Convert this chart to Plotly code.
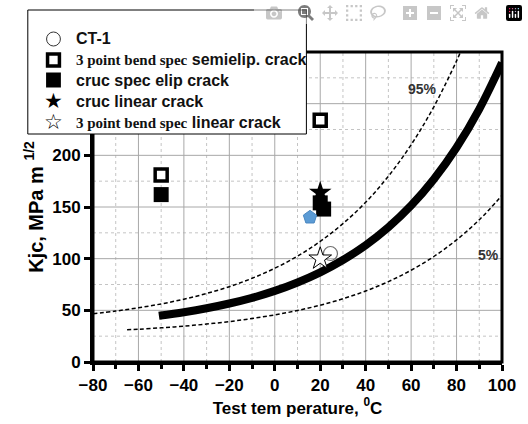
import plotly.graph_objects as go

# Master curve (median)
med_T = [-51, -40, -30, -20, -10, 0, 10, 20, 30, 40, 50, 60, 70, 80, 90, 100]
med_K = [44.7, 48.2, 52.0, 56.6, 62.1, 68.8, 77.0, 86.8, 98.7, 113.0, 130.4, 151.4, 176.9, 207.6, 244.8, 289.7]

# 95% bound
p95_T = [-80, -70, -60, -50, -40, -30, -20, -10, 0, 10, 20, 30, 40, 50, 60, 70, 80, 85]
p95_K = [46.8, 49.3, 52.5, 56.2, 60.8, 66.3, 72.9, 81.0, 90.7, 102.4, 116.7, 133.9, 154.6, 179.8, 210.2, 247.0, 291.4, 317]

# 5% bound
p05_T = [-65, -60, -50, -40, -30, -20, -10, 0, 10, 20, 30, 40, 50, 60, 70, 80, 90, 100]
p05_K = [31.2, 31.7, 33.1, 34.7, 36.7, 39.1, 42.1, 45.6, 49.8, 55.0, 61.2, 68.7, 77.8, 88.8, 102.1, 118.2, 137.6, 161.2]

# Test results
ct1_T, ct1_K = [24.5], [105]
sb_semi_T, sb_semi_K = [-50, 20], [181, 234]
cruc_elip_T, cruc_elip_K = [-50, 20, 21.5], [162, 154, 148]
cruc_lin_T, cruc_lin_K = [20], [164]
sb_lin_T, sb_lin_K = [20], [100]
blue_T, blue_K = [15.5], [140]

x_ticks = [-80, -60, -40, -20, 0, 20, 40, 60, 80, 100]
x_minor = [-70, -50, -30, -10, 10, 30, 50, 70, 90]
y_ticks = [0, 50, 100, 150, 200, 250, 300]
y_minor = [25, 75, 125, 175, 225, 275]

SERIF = "Liberation Serif, Times New Roman, serif"
SANS = "Liberation Sans, Arial, sans-serif"

W, H = 528, 424
PL, PR, PT, PB = 93, 507, 52, 362   # plot area in pixels


def fx(px):
    return (px - PL) / (PR - PL)


def fy(py):
    return (PB - py) / (PB - PT)


def mixed(serif_part, sans_part):
    return (f"<span style='font-family:{SERIF};font-size:15px'><b>{serif_part}</b></span>"
            f" <b>{sans_part}</b>")


fig = go.Figure()

# grid lines (at the tick positions, in data coordinates)
for v in x_minor:
    fig.add_shape(type="line", xref="x", yref="paper", x0=v, x1=v, y0=0, y1=1, layer="below",
                  line=dict(color="#c4c4c4", width=1, dash="dot"))
for v in y_minor:
    fig.add_shape(type="line", xref="paper", yref="y", x0=0, x1=1, y0=v, y1=v, layer="below",
                  line=dict(color="#c4c4c4", width=1, dash="dot"))
for v in x_ticks[1:-1]:
    fig.add_shape(type="line", xref="x", yref="paper", x0=v, x1=v, y0=0, y1=1, layer="below",
                  line=dict(color="#a8a8a8", width=1))
for v in y_ticks[1:-1]:
    fig.add_shape(type="line", xref="paper", yref="y", x0=0, x1=1, y0=v, y1=v, layer="below",
                  line=dict(color="#a8a8a8", width=1))

# curves
fig.add_trace(go.Scatter(x=p95_T, y=p95_K, mode="lines", line=dict(color="black", width=1.5, dash="4px,2.5px"),
                         line_shape="spline", showlegend=False, hoverinfo="skip"))
fig.add_trace(go.Scatter(x=p05_T, y=p05_K, mode="lines", line=dict(color="black", width=1.5, dash="4px,2.5px"),
                         line_shape="spline", showlegend=False, hoverinfo="skip"))
fig.add_trace(go.Scatter(x=med_T, y=med_K, mode="lines", line=dict(color="black", width=8),
                         line_shape="spline", showlegend=False, hoverinfo="skip"))

# markers
fig.add_trace(go.Scatter(x=ct1_T, y=ct1_K, mode="markers", showlegend=False,
                         marker=dict(symbol="circle-open", size=14, color="#707070", line=dict(width=1.2))))
fig.add_trace(go.Scatter(x=sb_semi_T, y=sb_semi_K, mode="markers", showlegend=False,
                         marker=dict(symbol="square", size=12, color="white", line=dict(width=3.5, color="black"))))
fig.add_trace(go.Scatter(x=cruc_elip_T, y=cruc_elip_K, mode="markers", showlegend=False,
                         marker=dict(symbol="square", size=15, color="black")))
fig.add_trace(go.Scatter(x=cruc_lin_T, y=cruc_lin_K, mode="markers", showlegend=False,
                         marker=dict(symbol="star", size=17, color="black")))
fig.add_trace(go.Scatter(x=sb_lin_T, y=sb_lin_K, mode="markers", showlegend=False,
                         marker=dict(symbol="star", size=17, color="white", line=dict(width=1, color="black"))))
fig.add_trace(go.Scatter(x=blue_T, y=blue_K, mode="markers", showlegend=False,
                         marker=dict(symbol="pentagon", size=14, color="#5b9bd5", line=dict(width=1, color="#4a87c0"))))

fig.add_annotation(x=65, y=264, text="<b>95%</b>", showarrow=False,
                   font=dict(family=SANS, size=14, color="#333333"))
fig.add_annotation(x=94, y=104, text="<b>5%</b>", showarrow=False,
                   font=dict(family=SANS, size=14, color="#333333"))

# plot frame
fig.add_shape(type="rect", xref="paper", yref="paper", layer="above",
              x0=0, x1=1, y0=0, y1=1, line=dict(color="black", width=3))

# ---- legend box drawn by hand (paper coordinates) ----
fig.add_shape(type="rect", xref="paper", yref="paper", layer="above",
              x0=fx(27), x1=fx(309), y0=fy(134), y1=fy(10),
              fillcolor="white", line=dict(color="black", width=1))

rows_y = [39, 60, 80, 101, 122]
sym_x = 53
text_x = 74
fig.add_shape(type="circle", xref="paper", yref="paper", layer="above",
              x0=fx(sym_x - 7), x1=fx(sym_x + 7), y0=fy(rows_y[0] + 7), y1=fy(rows_y[0] - 7),
              fillcolor="white", line=dict(color="#333333", width=1))
fig.add_shape(type="rect", xref="paper", yref="paper", layer="above",
              x0=fx(sym_x - 6), x1=fx(sym_x + 6), y0=fy(rows_y[1] + 6), y1=fy(rows_y[1] - 6),
              fillcolor="white", line=dict(color="black", width=3.5))
fig.add_shape(type="rect", xref="paper", yref="paper", layer="above",
              x0=fx(sym_x - 7.5), x1=fx(sym_x + 7.5), y0=fy(rows_y[2] + 7.5), y1=fy(rows_y[2] - 7.5),
              fillcolor="black", line=dict(color="black", width=0))
fig.add_annotation(xref="paper", yref="paper", x=fx(sym_x), y=fy(rows_y[3]), text="\u2605",
                   showarrow=False, xanchor="center", yanchor="middle",
                   font=dict(family="DejaVu Sans", size=21, color="black"))
fig.add_annotation(xref="paper", yref="paper", x=fx(sym_x), y=fy(rows_y[4]), text="\u2606",
                   showarrow=False, xanchor="center", yanchor="middle",
                   font=dict(family="DejaVu Sans", size=21, color="black"))

legend_texts = [
    "<b>CT-1</b>",
    mixed("3 point bend spec", "semielip. crack"),
    "<b>cruc spec elip crack</b>",
    "<b>cruc linear crack</b>",
    mixed("3 point bend spec", "linear crack"),
]
for ty, txt in zip(rows_y, legend_texts):
    fig.add_annotation(xref="paper", yref="paper", x=fx(text_x), y=fy(ty), text=txt,
                       showarrow=False, xanchor="left", yanchor="middle",
                       font=dict(family=SANS, size=16, color="#111111"))

axis_common = dict(
    showline=True, linecolor="black", linewidth=3,
    ticks="outside", tickcolor="black", tickwidth=2.5, ticklen=6,
    showgrid=False, zeroline=False,
    tickfont=dict(family=SANS, size=17, color="black", weight="bold"),
)

fig.update_xaxes(range=[-80, 100], tickvals=x_ticks, **axis_common,
                 minor=dict(tickvals=x_minor, ticks="outside", ticklen=4, tickwidth=2.5,
                            tickcolor="black", showgrid=False),
                 title=dict(text="<b>Test tem perature, <sup>0</sup>C</b>",
                            font=dict(family=SANS, size=17, color="black"), standoff=2))
fig.update_yaxes(range=[0, 300], tickvals=y_ticks, **axis_common,
                 title=dict(text="<b>Kjc, MPa m <sup>1/2</sup></b>",
                            font=dict(family=SANS, size=20, color="black"), standoff=4))

fig.update_layout(
    width=W, height=H,
    margin=dict(l=PL, r=W - PR, t=PT, b=H - PB),
    paper_bgcolor="white", plot_bgcolor="white",
    showlegend=False,
)

fig.write_html("out.html", post_script="document.body.style.margin='0px';")
